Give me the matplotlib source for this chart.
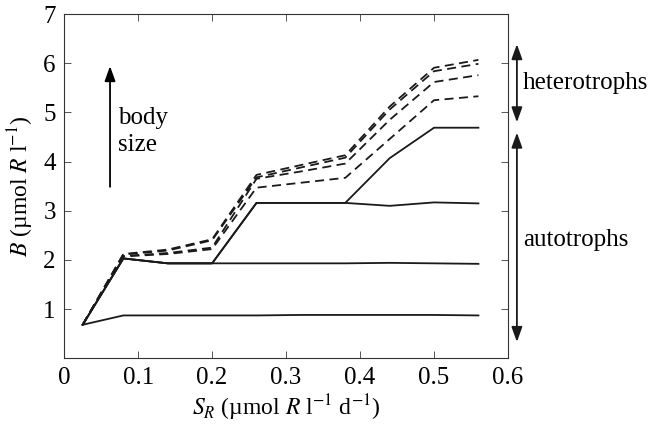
import matplotlib
matplotlib.use("Agg")
import matplotlib.pyplot as plt

# resource supply rate S_R
s_r = [0.025, 0.08, 0.14, 0.2, 0.26, 0.32, 0.38, 0.44, 0.5, 0.56]

# autotroph biomass (solid lines), small to large body size
auto_1 = [0.68, 0.87, 0.87, 0.87, 0.87, 0.88, 0.88, 0.88, 0.88, 0.87]
auto_2 = [0.68, 2.03, 1.93, 1.93, 1.93, 1.93, 1.93, 1.94, 1.93, 1.92]
auto_3 = [0.68, 2.03, 1.93, 1.93, 3.16, 3.16, 3.16, 3.10, 3.17, 3.15]
auto_4 = [0.68, 2.03, 1.93, 1.93, 3.16, 3.16, 3.16, 4.07, 4.69, 4.69]

# heterotroph biomass (dashed lines)
het_1 = [0.68, 2.07, 2.12, 2.22, 3.47, 3.57, 3.67, 4.46, 5.25, 5.33]
het_2 = [0.68, 2.08, 2.14, 2.25, 3.65, 3.80, 3.96, 4.85, 5.62, 5.76]
het_3 = [0.68, 2.11, 2.19, 2.40, 3.68, 3.88, 4.08, 5.06, 5.84, 5.99]
het_4 = [0.68, 2.12, 2.21, 2.42, 3.73, 3.93, 4.13, 5.12, 5.91, 6.07]

plt.rcParams["font.family"] = "Liberation Serif"
plt.rcParams["mathtext.fontset"] = "stix"
plt.rcParams["font.size"] = 18

fig = plt.figure(figsize=(6.48, 4.30), dpi=100)
ax = fig.add_axes([0.099, 0.167, 0.685, 0.80])

for y in [auto_1, auto_2, auto_3, auto_4]:
    ax.plot(s_r, y, color="#1a1a1a", lw=1.3)
for y in [het_1, het_2, het_3, het_4]:
    ax.plot(s_r, y, color="#1a1a1a", lw=1.3, dashes=(5, 3))

ax.set_xlim(0, 0.6)
ax.set_ylim(0, 7)
ax.set_xticks([0, 0.1, 0.2, 0.3, 0.4, 0.5, 0.6])
ax.set_xticklabels(["0", "0.1", "0.2", "0.3", "0.4", "0.5", "0.6"])
ax.set_yticks([0, 1, 2, 3, 4, 5, 6, 7])
ax.set_yticklabels(["", "1", "2", "3", "4", "5", "6", "7"])
ax.tick_params(direction="in", top=True, right=True, length=5, width=0.7,
               color="#555555", pad=6)
for sp in ax.spines.values():
    sp.set_linewidth(0.8)
    sp.set_color("#333333")

ax.set_xlabel(r"$S_R$ (µmol $R$ l$^{-1}$ d$^{-1}$)", labelpad=3, fontsize=17)
ax.set_ylabel(r"$B$ (µmol $R$ l$^{-1}$)", labelpad=5, fontsize=17)

# body size arrow
ax.annotate("", xy=(0.062, 6.0), xytext=(0.062, 3.43),
            arrowprops=dict(arrowstyle="-|>,head_length=0.5,head_width=0.18",
                            color="black", lw=1.3))
ax.text(0.073, 4.62, "body\nsize", ha="left", va="center", linespacing=1.3)

# right-hand group arrows (outside axes)
ax.annotate("", xy=(0.612, 6.39), xytext=(0.612, 4.80),
            arrowprops=dict(arrowstyle="<|-|>,head_length=0.5,head_width=0.18",
                            color="#1a1a1a", lw=1.3, shrinkA=0, shrinkB=0),
            annotation_clip=False)
ax.annotate("", xy=(0.612, 4.59), xytext=(0.612, 0.33),
            arrowprops=dict(arrowstyle="<|-|>,head_length=0.5,head_width=0.18",
                            color="#1a1a1a", lw=1.3, shrinkA=0, shrinkB=0),
            annotation_clip=False)
ax.text(0.620, 5.6, "heterotrophs", ha="left", va="center", clip_on=False)
ax.text(0.620, 2.4, "autotrophs", ha="left", va="center", clip_on=False)

fig.savefig("out.png", dpi=100)
